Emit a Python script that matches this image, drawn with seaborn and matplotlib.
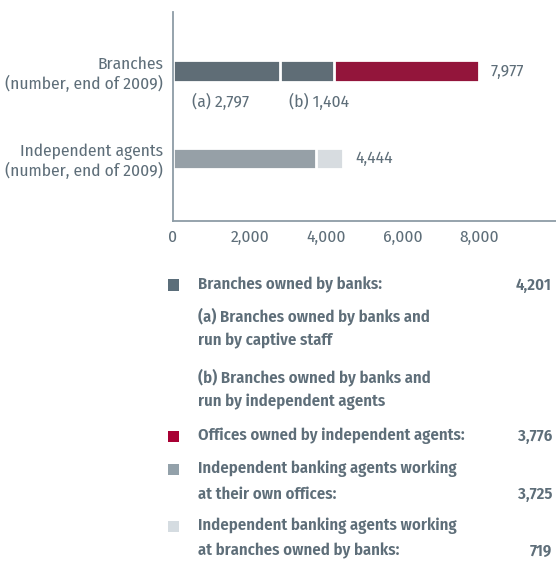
import matplotlib
matplotlib.use("Agg")
import matplotlib.pyplot as plt
from matplotlib import font_manager as fm
from matplotlib.patches import Rectangle
import seaborn as sns
import pandas as pd

# ---- data -------------------------------------------------------------
categories = ["Branches\n(number, end of 2009)",
              "Independent agents\n(number, end of 2009)"]

branch_segments = ["(a) owned by banks, captive staff",
                   "(b) owned by banks, independent agents",
                   "offices owned by independent agents"]
branch_values = [2797, 1404, 3776]

agent_segments = ["agents at their own offices",
                  "agents at branches owned by banks"]
agent_values = [3725, 719]

segment_tags = ["(a)", "(b)"]

tick_values = [0, 2000, 4000, 6000, 8000]
tick_labels = ["0", "2,000", "4,000", "6,000", "8,000"]

legend_texts = [
    "Branches owned by banks:",
    "(a) Branches owned by banks and\nrun by captive staff",
    "(b) Branches owned by banks and\nrun by independent agents",
    "Offices owned by independent agents:",
    "Independent banking agents working\nat their own offices:",
    "Independent banking agents working\nat branches owned by banks:",
]
legend_values = [branch_values[0] + branch_values[1], None, None,
                 branch_values[2], agent_values[0], agent_values[1]]

# ---- style ------------------------------------------------------------
SLATE = "#5b6e7a"
CRIMSON = "#a80033"
GREY = "#93a1aa"
LIGHT = "#d5dce1"
TEXT = "#5e6e79"
AXIS = "#8d9ca6"

palette = {
    branch_segments[0]: SLATE,
    branch_segments[1]: SLATE,
    branch_segments[2]: CRIMSON,
    agent_segments[0]: GREY,
    agent_segments[1]: LIGHT,
}
legend_colors = [SLATE, None, None, CRIMSON, GREY, LIGHT]

# a condensed sans-serif, first one installed
installed = {f.name for f in fm.fontManager.ttflist}
condensed = [n for n in ["Fira Sans Condensed", "PT Sans Narrow",
                         "Roboto Condensed", "Archivo Narrow"] if n in installed]
FAMILY = (condensed or ["Liberation Sans"])[0]

sns.set_theme(style="white")
plt.rcParams["font.family"] = [FAMILY, "DejaVu Sans"]
plt.rcParams["text.color"] = TEXT

W, H = 556, 563
fig = plt.figure(figsize=(W / 100, H / 100), dpi=100)
ax = fig.add_axes([173 / W, 1 - 221 / H, 1 - 173 / W, (221 - 12) / H])

# ---- long table of stacked segments -----------------------------------
rows = []
for cat, segs, vals in [(categories[0], branch_segments, branch_values),
                        (categories[1], agent_segments, agent_values)]:
    cum = 0
    for layer, (s, v) in enumerate(zip(segs, vals)):
        rows.append(dict(category=cat, segment=s, start=cum, end=cum + v,
                         value=v, layer=layer))
        cum += v
df = pd.DataFrame(rows)

# Stack by overlaying cumulative bars, outermost first
for layer in sorted(df["layer"].unique(), reverse=True):
    sub = df[df["layer"] == layer]
    sns.barplot(data=sub, x="end", y="category", hue="segment",
                order=categories, palette=palette, dodge=False,
                width=0.25, edgecolor="white", linewidth=2.0,
                legend=False, orient="h", ax=ax)

FS = 12.5
# totals at the end of each bar
totals = df.groupby("category", sort=False)["end"].max()
for i, cat in enumerate(categories):
    ax.annotate(f"{int(totals[cat]):,}", xy=(totals[cat], i),
                xytext=(8.5, 0), textcoords="offset points",
                va="center", ha="left", fontsize=FS, color=TEXT)

# (a) / (b) labels below the Branches bar
tag_offsets = [13.5, 6.5]
first_row = df[df["category"] == categories[0]].iloc[:2]
for tag, off, (_, r) in zip(segment_tags, tag_offsets, first_row.iterrows()):
    ax.annotate(f"{tag} {int(r['value']):,}", xy=(r["start"], 0),
                xytext=(off, -22), textcoords="offset points",
                va="center", ha="left", fontsize=FS, color=TEXT)

# ---- axes -------------------------------------------------------------
ax.set_xlim(0, 10000)
ax.set_ylim(1.714, -0.674)
ax.set_xticks(tick_values, tick_labels)
ax.set_xlabel("")
ax.set_ylabel("")
ax.tick_params(axis="both", length=0, labelsize=FS, labelcolor=TEXT)
ax.tick_params(axis="x", pad=6)
ax.tick_params(axis="y", pad=7)
for side in ("top", "right"):
    ax.spines[side].set_visible(False)
for side in ("left", "bottom"):
    ax.spines[side].set_color(AXIS)
    ax.spines[side].set_linewidth(1.3)

# ---- legend block -----------------------------------------------------
first_line_y = [285, 316, 377, 436, 469, 526]
line_step = 25
sq = 11
LFS = 12
for text, value, color, y0 in zip(legend_texts, legend_values,
                                   legend_colors, first_line_y):
    lines = text.split("\n")
    for k, line in enumerate(lines):
        fig.text(198 / W, 1 - (y0 + k * line_step) / H, line,
                 ha="left", va="center", fontsize=LFS,
                 fontweight="semibold", color=TEXT)
    if value is not None:
        y_last = y0 + (len(lines) - 1) * line_step
        fig.text(552 / W, 1 - y_last / H, f"{value:,}",
                 ha="right", va="center", fontsize=LFS,
                 fontweight="semibold", color=TEXT)
    if color is not None:
        fig.patches.append(Rectangle((168 / W, 1 - (y0 + sq / 2) / H),
                                     sq / W, sq / H, facecolor=color,
                                     edgecolor="none",
                                     transform=fig.transFigure, figure=fig))

fig.savefig("out.png", dpi=100)
